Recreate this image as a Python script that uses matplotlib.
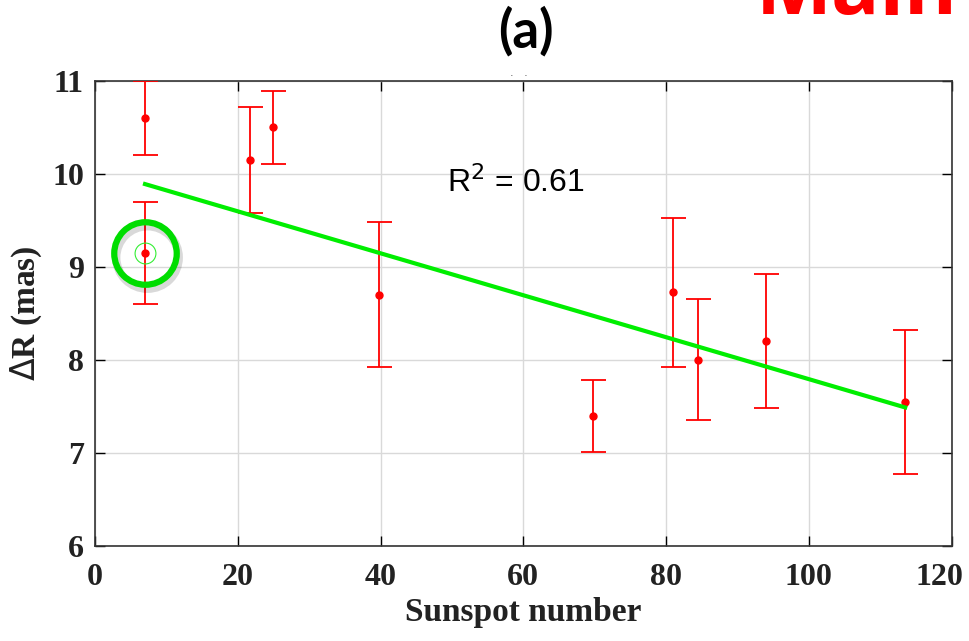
import numpy as np
import matplotlib.pyplot as plt
from matplotlib import transforms

# sunspot number vs Delta R
sunspot = [7, 7, 21.7, 25, 39.8, 69.7, 81, 84.5, 94, 113.5]
delta_r = [10.6, 9.15, 10.15, 10.5, 8.7, 7.4, 8.73, 8.0, 8.2, 7.55]
err = [0.4, 0.55, 0.57, 0.39, 0.78, 0.39, 0.8, 0.65, 0.72, 0.77]

fit_x = [7, 113.5]
fit_y = [9.89, 7.49]

xticks = [0, 20, 40, 60, 80, 100, 120]
yticks = [6, 7, 8, 9, 10, 11]

fig = plt.figure(figsize=(9.7, 6.41), dpi=100)
ax = fig.add_axes([0.098, 0.148, 0.883, 0.726])

ax.grid(True, color='#d9d9d9', lw=1)
ax.set_axisbelow(True)

ax.errorbar(sunspot, delta_r, yerr=err, fmt='o', color='red', ms=5,
            ecolor='red', elinewidth=1.3, capsize=9, capthick=1.3, zorder=3)
ax.plot(fit_x, fit_y, color='#00ee00', lw=3, zorder=4)

# highlighted point (ring with a soft shadow)
hx, hy = sunspot[1], delta_r[1]
shadow_tr = transforms.offset_copy(ax.transData, fig=fig, x=1.5, y=-3, units='points')
ax.plot(hx, hy, 'o', ms=45, mfc='none', mec='black', mew=6, alpha=0.15,
        transform=shadow_tr, zorder=5)
ax.plot(hx, hy, 'o', ms=45, mfc='none', mec='#00dd00', mew=4.5, zorder=6)
ax.plot(hx, hy, 'o', ms=15, mfc='none', mec='#33ee33', mew=0.8, zorder=6)

ax.text(49.3, 9.80, r'R$^2$ = 0.61', fontsize=23, family='Liberation Sans',
        va='baseline')

ax.set_xlim(0, 120)
ax.set_ylim(6, 11)
ax.set_xticks(xticks)
ax.set_yticks(yticks)
ax.tick_params(direction='in', length=7, width=1, top=True, right=True,
               labelsize=23)
ax.tick_params(axis='x', pad=12)
ax.tick_params(axis='y', pad=8)
for lab in ax.get_xticklabels() + ax.get_yticklabels():
    lab.set_family('Liberation Serif')
    lab.set_weight('bold')
    lab.set_color('#222222')
for s in ax.spines.values():
    s.set_color('#333333')
    s.set_linewidth(1.2)

# keep the last x label inside the figure
last = ax.get_xticklabels()[-1]
last.set_horizontalalignment('right')
last.set_transform(last.get_transform() +
                   transforms.ScaledTranslation(12 / 100, 0, fig.dpi_scale_trans))

ax.set_xlabel('Sunspot number', fontsize=24, family='Liberation Serif',
              weight='bold', labelpad=4, color='#222222')
ax.set_ylabel(r'$\Delta$R (mas)', fontsize=24, family='Liberation Serif',
              weight='bold', labelpad=6, color='#222222')

fig.text(0.542, 0.951, '(a)', fontsize=38, weight='bold', family='Lato',
         ha='center', va='center')
fig.text(0.535, 0.886, '.   .', fontsize=8, color='#555555', ha='center',
         va='center')
fig.text(0.883, 0.978, 'Main', fontsize=58, weight='bold', color='red',
         family='Open Sans', ha='center', va='baseline')

fig.savefig('out.png', dpi=100)
